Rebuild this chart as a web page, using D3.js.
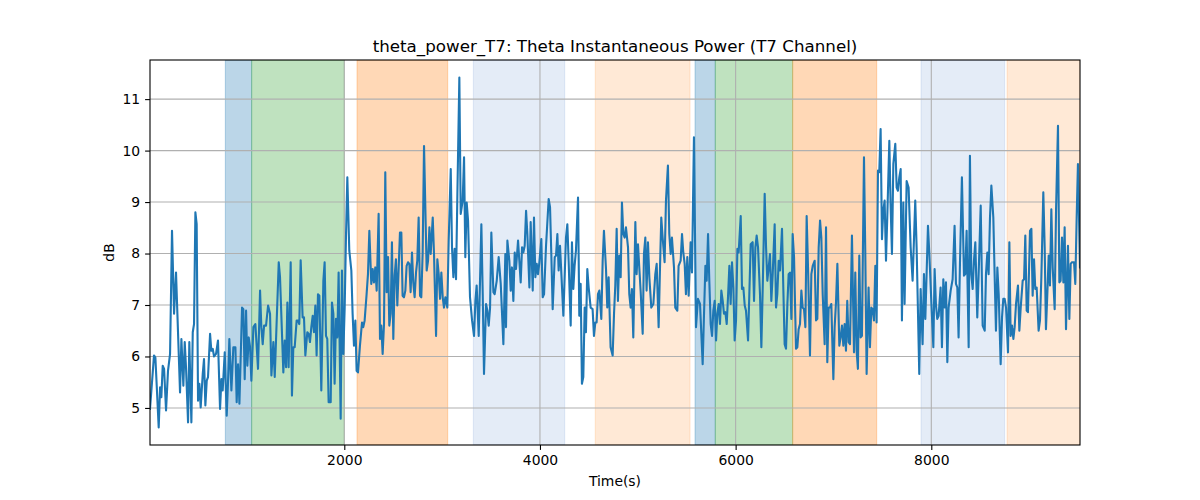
<!DOCTYPE html>
<html>
<head>
<meta charset="utf-8">
<script src="https://cdn.jsdelivr.net/npm/d3@7"></script>
<style>
  html, body { margin: 0; padding: 0; background: #ffffff; }
  svg { display: block; font-family: "DejaVu Sans", sans-serif; }
</style>
</head>
<body>
<svg id="chart" width="1200" height="500"></svg>
<script>
// ---------------- data ----------------
const times = [
  14,55,69,103,117,130,144,158,178,198,219,239,260,280,294,321,335,355,369,382,
  403,416,437,451,464,478,491,505,519,532,553,566,580,594,607,628,641,655,669,689,
  709,730,744,757,778,798,812,825,846,866,887,900,914,928,955,968,982,996,1009,1023,
  1037,1050,1071,1091,1118,1139,1152,1166,1180,1200,1221,1241,1255,1275,1289,1302,1330,1343,1377,1391,
  1405,
  1418,1431,1452,1465,1479,1493,1513,1527,1540,1554,1574,1588,1602,1622,1636,1649,1663,1677,1690,1704,
  1717,1731,1745,1765,1786,1799,1813,1826,1840,1861,1874,1888,1901,1915,1929,1942,1963,1976,1990,2004,
  2017,2031,2051,2072,2085,2099,2113,2126,2140,2160,2181,2194,2208,2228,2242,2256,2276,2290,2303,2317,
  2331,2351,2365,2378,2392,2406,2419,2433,2447,2460,2474,2487,2501,2515,2528,2542,2556,2569,2583,2596,
  2610,2624,2637,2651,2665,2678,2692,2705,2719,2733,2746,2760,2774,2787,2801,2815,
  2842,2856,2870,2883,2904,2917,2938,2951,2965,2979,2992,3006,3019,3033,3053,3067,3088,3101,3115,3128,
  3142,3156,3176,3190,3210,3224,3237,3251,3265,3285,3306,3326,3340,3353,3374,3401,3415,3428,3449,3462,
  3476,3490,3503,3524,3537,3558,3578,3599,3626,3646,3653,3667,3687,3701,3714,3728,3742,3755,3776,3789,
  3803,3817,3830,3844,3858,3871,3892,3905,3926,3939,3953,3967,3980,3994,4014,4028,4042,4062,4089,4103,
  4116,4130,4151,4164,4178,4191,4205,4219,4239,
  4266,4280,4293,4314,4327,4341,4354,4368,4389,4402,4416,4429,4443,4457,4470,4484,4498,4518,4538,4552,
  4566,4579,4593,4607,4627,4641,4654,4675,4688,4702,4722,4743,4757,4770,4784,4797,4811,4825,4838,4852,
  4866,4879,4900,4913,4927,4940,4954,4975,4988,5002,5015,5029,5050,5063,5077,5090,5104,5118,5138,5159,
  5179,5193,5213,5227,5240,5254,5274,5288,5308,5322,5336,5349,5370,5383,5404,5417,5438,5452,5465,5479,
  5492,5506,5520,5540,5554,5574,5595,5615,5636,
  5663,5677,5691,5704,5718,5731,5745,5759,5772,5786,5800,5813,5827,5840,5854,5868,5881,5895,5909,5922,
  5936,5949,5963,5977,5990,6004,6018,6031,6052,6065,6079,6093,6106,6127,6140,6154,6174,6188,6202,6215,
  6229,6249,6263,6277,6297,6311,6324,6338,6351,6365,6379,6399,6413,6426,6440,6454,6474,6488,6501,6515,
  6529,6542,6556,6570,6583,6597,6617,6631,6644,6658,6672,6685,6699,6713,6726,6740,6760,6774,6788,6808,
  6822,6835,6849,6863,6876,6890,6910,6924,6937,6951,6965,6978,6999,7012,7026,7040,7060,
  7073,7087,7101,7114,7128,7141,7155,7169,7189,7210,7223,7237,7250,7264,7278,7291,7312,7325,7339,7359,
  7373,7387,7400,7414,7428,7441,7455,7468,7482,7496,7509,7523,7537,7550,7571,7584,7598,7612,7632,7646,
  7659,7673,7687,7700,7714,7727,7748,7768,7789,7809,7836,7850,7877,7891,7911,7925,7939,7966,7980,8000,
  8021,8034,8048,8061,8075,8095,8109,8123,8136,8150,8164,8177,8198,8218,8238,8252,8266,8279,8293,8313,
  8334,8347,8361,8382,8395,8409,8423,8436,8450,8470,
  8484,8505,8525,8546,8559,8573,8586,8600,8614,8634,8648,8661,8675,8689,8709,8723,8736,8750,8764,8784,
  8798,8811,8825,8839,8852,8866,8886,8900,8914,8934,8948,8961,8975,8988,9009,9023,9036,9050,9063,9077,
  9097,9111,9125,9145,9159,9172,9186,9200,9213,9227,9241,9261,9275,9295,9309,9322,9336,9350,9363,9377,
  9397,9411,9425,9438,9459,9472,9486,9499,9520
];

const power = [
  4.98,6.02,5.98,4.62,5.40,5.21,5.82,5.76,4.95,5.72,6.05,8.44,6.83,7.63,6.83,5.30,6.34,5.43,6.28,5.79,
  4.72,6.28,4.72,6.47,6.63,8.80,8.57,5.14,5.47,5.01,5.66,5.95,5.05,5.53,5.60,6.44,6.11,6.15,6.00,6.05,
  6.31,4.98,5.56,5.34,6.08,4.85,5.53,6.34,5.34,6.18,6.18,5.11,5.85,5.08,6.95,6.92,5.56,6.89,5.82,6.37,
  6.18,5.53,6.57,6.63,5.76,7.28,6.57,6.24,6.60,6.60,6.99,6.83,5.63,6.28,5.60,6.31,7.83,7.54,5.69,6.31,
  5.79,
  7.05,5.79,7.83,5.24,6.18,6.18,6.70,6.70,6.63,7.87,6.76,6.76,6.02,6.47,6.44,6.28,6.57,6.79,6.47,6.99,
  6.02,7.21,7.18,5.34,7.47,7.83,6.40,6.34,5.11,5.11,7.05,6.83,5.47,6.73,6.37,7.63,4.79,7.67,6.05,6.95,
  8.31,9.48,8.06,7.67,6.83,6.21,6.70,5.72,5.69,6.21,6.66,6.57,6.70,7.21,7.60,8.44,7.41,7.70,7.44,7.73,
  7.28,8.77,6.34,6.60,6.05,6.63,9.58,7.25,7.93,6.60,6.83,8.22,6.34,7.57,7.89,6.99,7.73,8.41,8.41,7.18,
  7.15,7.28,7.76,7.83,7.80,7.25,8.02,7.44,7.15,7.63,7.86,8.70,7.18,7.15,8.02,10.09,
  7.67,7.86,8.51,7.99,8.70,7.99,6.40,7.89,7.60,7.12,7.63,7.15,6.95,7.15,6.95,8.25,9.64,8.12,7.54,8.09,
  7.50,9.16,11.42,8.77,9.03,9.87,7.93,8.99,8.64,7.15,6.70,6.40,7.08,7.38,6.40,8.57,7.21,5.66,7.02,6.89,
  6.60,6.95,8.41,7.25,7.21,7.47,7.93,7.41,6.24,7.99,6.57,8.25,7.86,7.28,7.73,7.08,8.02,7.70,8.25,7.86,
  7.44,8.12,8.02,8.15,8.83,8.38,7.34,8.61,7.28,8.70,7.54,7.80,7.60,7.83,8.28,7.15,7.21,8.15,9.06,8.90,
  7.99,6.92,7.93,7.96,8.38,7.67,8.15,7.60,6.79,
  8.31,8.57,7.86,6.60,8.22,7.31,7.76,8.06,9.09,6.79,7.41,5.47,5.60,6.95,6.47,7.70,7.34,6.95,6.92,6.40,
  6.66,6.66,7.21,7.28,6.73,7.86,8.44,7.70,6.95,7.54,6.18,6.02,6.83,7.38,8.48,7.08,7.96,7.54,8.99,8.38,
  8.31,8.51,8.12,7.21,6.95,7.31,6.37,8.61,7.60,8.18,7.73,7.28,6.44,7.99,8.31,7.28,8.22,7.54,6.95,7.02,
  7.60,7.80,6.57,7.73,8.70,8.31,7.83,9.03,9.71,8.38,7.99,8.31,7.73,6.95,6.89,7.76,7.86,8.38,8.02,7.80,
  7.21,7.93,7.18,8.22,7.63,10.26,6.57,7.12,7.02,
  5.85,6.83,7.76,7.47,8.38,7.47,6.63,6.40,6.89,7.08,6.31,6.83,7.02,6.63,7.28,7.08,6.83,6.86,6.63,7.15,
  7.76,7.02,7.83,7.34,6.31,6.70,8.09,8.02,8.73,7.31,7.34,6.99,6.89,6.31,7.21,8.18,8.22,7.08,8.12,8.35,
  8.12,7.21,6.18,7.34,9.16,8.12,7.47,7.73,7.99,7.08,7.60,8.57,6.95,7.21,7.86,7.67,8.48,7.28,6.24,6.15,
  7.02,7.60,7.63,6.73,8.38,7.93,6.15,6.18,6.53,6.63,7.28,6.95,6.92,6.57,8.73,7.73,6.02,7.60,7.76,7.86,
  6.70,6.73,8.12,8.64,8.31,7.21,6.24,8.51,5.89,6.95,6.95,7.02,5.56,6.57,7.05,7.80,6.21,
  6.37,6.60,6.21,6.63,6.11,7.08,6.28,6.24,8.35,6.08,7.63,6.11,5.76,7.96,6.37,6.40,9.87,8.06,5.66,7.34,
  6.18,6.95,6.92,6.70,7.76,6.66,9.61,9.58,10.42,8.28,8.83,9.03,7.86,8.70,10.19,8.96,7.99,9.74,10.13,9.28,
  9.22,9.48,9.64,6.70,8.99,7.02,9.41,9.28,8.12,7.47,9.03,8.12,5.66,7.31,6.24,7.60,6.73,8.54,7.99,7.08,
  6.18,7.70,6.99,6.73,6.79,7.34,6.18,7.50,6.95,7.44,5.89,6.95,7.28,7.50,8.54,7.41,7.34,6.37,7.80,9.48,
  7.57,7.60,8.44,6.18,9.90,7.60,7.31,7.86,8.22,6.76,
  7.60,8.93,6.60,6.50,7.60,8.02,7.60,8.70,9.32,8.70,7.54,6.50,7.73,7.21,5.85,6.76,7.12,7.12,6.95,6.08,
  8.22,6.40,6.60,6.34,6.57,7.02,7.38,6.50,6.95,7.47,7.50,8.35,6.89,6.86,8.44,8.48,7.18,7.89,7.31,7.34,
  6.50,6.70,7.54,9.19,8.12,6.53,7.21,7.96,7.38,8.86,7.73,6.92,8.83,10.48,7.44,7.47,8.31,7.44,8.51,6.53,
  8.15,6.73,7.80,7.83,7.83,7.41,8.70,9.74,7.73
];

// shaded intervals (seconds)
const spanStarts = [784, 1053, 2130, 3319, 4565, 5585, 5792, 6583, 7895, 8774];
const spanEnds   = [1053, 2000, 3057, 4253, 5534, 5792, 6583, 7442, 8750, 9520];
const spanKinds  = ["blue", "green", "orange", "paleblue", "paleorange",
                    "blue", "green", "orange", "paleblue", "paleorange"];

const xTickValues = [2000, 4000, 6000, 8000];
const yTickValues = [5, 6, 7, 8, 9, 10, 11];

const titleText = "theta_power_T7: Theta Instantaneous Power (T7 Channel)";
const xLabelText = "Time(s)";
const yLabelText = "dB";

// ---------------- styling ----------------
const kindStyle = {
  blue:       { color: "#1f77b4", alpha: 0.3 },
  green:      { color: "#2ca02c", alpha: 0.3 },
  orange:     { color: "#ff7f0e", alpha: 0.3 },
  paleblue:   { color: "#4a7fc8", alpha: 0.15 },
  paleorange: { color: "#ff7f0e", alpha: 0.17 }
};

const L = 150, R = 1080, T = 60, B = 445;
const svg = d3.select("#chart");
svg.append("rect").attr("width", 1200).attr("height", 500).attr("fill", "#fff");

const x = d3.scaleLinear()
  .domain([d3.min(times), d3.max(times)])
  .range([L, R]);

const yMin = d3.min(power), yMax = d3.max(power), yr = yMax - yMin;
const y = d3.scaleLinear()
  .domain([yMin - 0.05 * yr, yMax + 0.05 * yr])
  .range([B, T]);

svg.append("defs").append("clipPath").attr("id", "clip")
  .append("rect").attr("x", L).attr("y", T).attr("width", R - L).attr("height", B - T);

const plot = svg.append("g").attr("clip-path", "url(#clip)");

// spans
const spans = spanStarts.map((s, i) => ({ s, e: spanEnds[i], k: spanKinds[i] }));
plot.selectAll("rect.span").data(spans).join("rect")
  .attr("class", "span")
  .attr("x", d => x(d.s))
  .attr("y", T)
  .attr("width", d => x(d.e) - x(d.s))
  .attr("height", B - T)
  .attr("fill", d => kindStyle[d.k].color)
  .attr("fill-opacity", d => kindStyle[d.k].alpha)
  .attr("stroke", d => kindStyle[d.k].color)
  .attr("stroke-opacity", d => kindStyle[d.k].alpha)
  .attr("stroke-width", 1);

// grid
const gridColor = "#b0b0b0";
plot.selectAll("line.gx").data(xTickValues).join("line")
  .attr("x1", d => x(d)).attr("x2", d => x(d))
  .attr("y1", T).attr("y2", B)
  .attr("stroke", gridColor).attr("stroke-width", 1.1);
plot.selectAll("line.gy").data(yTickValues).join("line")
  .attr("x1", L).attr("x2", R)
  .attr("y1", d => y(d)).attr("y2", d => y(d))
  .attr("stroke", gridColor).attr("stroke-width", 1.1);

// series line
const line = d3.line().x((d, i) => x(times[i])).y(d => y(d));
plot.append("path")
  .datum(power)
  .attr("d", line)
  .attr("fill", "none")
  .attr("stroke", "#1f77b4")
  .attr("stroke-width", 2.1)
  .attr("stroke-linejoin", "round")
  .attr("stroke-linecap", "square");

// axes
const fontSize = "13.9px";
const xAxis = d3.axisBottom(x).tickValues(xTickValues).tickFormat(d3.format("d"))
  .tickSize(4.9).tickPadding(4.9);
const gx = svg.append("g").attr("transform", `translate(0,${B})`).call(xAxis);
gx.select(".domain").remove();
gx.selectAll("line").attr("stroke", "#000").attr("stroke-width", 1.1);
gx.selectAll("text").attr("font-size", fontSize).attr("font-family", "DejaVu Sans").attr("fill", "#000");

const yAxis = d3.axisLeft(y).tickValues(yTickValues).tickFormat(d3.format("d"))
  .tickSize(4.9).tickPadding(4.9);
const gy = svg.append("g").attr("transform", `translate(${L},0)`).call(yAxis);
gy.select(".domain").remove();
gy.selectAll("line").attr("stroke", "#000").attr("stroke-width", 1.1);
gy.selectAll("text").attr("font-size", fontSize).attr("font-family", "DejaVu Sans").attr("fill", "#000");

// spines
svg.append("rect")
  .attr("x", L).attr("y", T).attr("width", R - L).attr("height", B - T)
  .attr("fill", "none").attr("stroke", "#000").attr("stroke-width", 1.1);

// labels
svg.append("text")
  .attr("x", (L + R) / 2).attr("y", 52)
  .attr("text-anchor", "middle")
  .attr("font-size", "16.7px")
  .attr("fill", "#000")
  .text(titleText);

svg.append("text")
  .attr("x", (L + R) / 2).attr("y", 486)
  .attr("text-anchor", "middle")
  .attr("font-size", fontSize)
  .attr("fill", "#000")
  .text(xLabelText);

svg.append("text")
  .attr("transform", `translate(114,${(T + B) / 2}) rotate(-90)`)
  .attr("text-anchor", "middle")
  .attr("font-size", fontSize)
  .attr("fill", "#000")
  .text(yLabelText);
</script>
</body>
</html>
